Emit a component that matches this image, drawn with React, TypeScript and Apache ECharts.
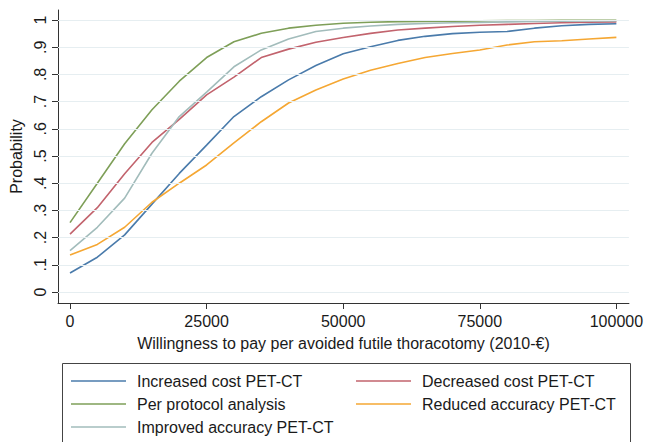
import React, { useEffect, useRef } from "react";
import * as echarts from "echarts";

const xValues = [0, 5000, 10000, 15000, 20000, 25000, 30000, 35000, 40000, 45000, 50000, 55000, 60000, 65000, 70000, 75000, 80000, 85000, 90000, 95000, 100000];
const increasedCost = [0.07, 0.128, 0.21, 0.323, 0.436, 0.54, 0.645, 0.718, 0.78, 0.833, 0.876, 0.902, 0.925, 0.94, 0.95, 0.955, 0.958, 0.97, 0.979, 0.984, 0.986];
const decreasedCost = [0.213, 0.31, 0.435, 0.55, 0.635, 0.725, 0.79, 0.862, 0.893, 0.918, 0.936, 0.951, 0.963, 0.97, 0.976, 0.981, 0.984, 0.987, 0.99, 0.992, 0.993];
const perProtocol = [0.255, 0.4, 0.545, 0.67, 0.775, 0.862, 0.92, 0.951, 0.97, 0.981, 0.988, 0.992, 0.994, 0.995, 0.996, 0.997, 0.998, 0.998, 0.999, 0.999, 0.999];
const reducedAccuracy = [0.136, 0.175, 0.238, 0.33, 0.4, 0.467, 0.548, 0.626, 0.695, 0.743, 0.783, 0.815, 0.84, 0.862, 0.877, 0.89, 0.908, 0.92, 0.924, 0.93, 0.936];
const improvedAccuracy = [0.152, 0.238, 0.345, 0.51, 0.645, 0.735, 0.828, 0.89, 0.93, 0.958, 0.97, 0.978, 0.984, 0.987, 0.99, 0.991, 0.993, 0.995, 0.996, 0.997, 0.997];

const xTicks = [0, 25000, 50000, 75000, 100000];
const yTicks = [0, 0.1, 0.2, 0.3, 0.4, 0.5, 0.6, 0.7, 0.8, 0.9, 1];

const seriesNames = [
  "Increased cost PET-CT",
  "Decreased cost PET-CT",
  "Per protocol analysis",
  "Reduced accuracy PET-CT",
  "Improved accuracy PET-CT",
];
const seriesData = [increasedCost, decreasedCost, perProtocol, reducedAccuracy, improvedAccuracy];
const seriesColors = ["#4a7bab", "#c2636d", "#7e9f58", "#f5a733", "#a2bcbb"];

const FONT = "'Liberation Sans', Arial, Helvetica, sans-serif";
const TEXT = "#1a1a1a";
const AXIS = "#333333";

function yLabel(v: number): string {
  if (Math.abs(v) < 1e-9) return "0";
  if (Math.abs(v - 1) < 1e-9) return "1";
  return "." + Math.round(v * 10);
}

// legend slots: [series index, left, top]
const legendSlots: [number, number, number][] = [
  [0, 71, 372],
  [1, 356, 372],
  [2, 71, 395],
  [3, 356, 395],
  [4, 71, 418],
];

export default function App() {
  const ref = useRef<HTMLDivElement>(null);
  useEffect(() => {
    if (!ref.current) return;
    const chart = echarts.init(ref.current, undefined, { renderer: "svg" });
    const series: any[] = seriesNames.map((name, i) => ({
      name,
      type: "line",
      symbol: "none",
      showSymbol: false,
      z: 3,
      data: xValues.map((x, j) => [x, seriesData[i][j]]),
      lineStyle: { color: seriesColors[i], width: 1.6 },
      itemStyle: { color: seriesColors[i] },
    }));
    series.push({
      name: "grid",
      type: "line",
      symbol: "none",
      z: 1,
      data: [],
      silent: true,
      markLine: {
        silent: true,
        symbol: "none",
        label: { show: false },
        lineStyle: { color: "#e6eef1", width: 1, type: "solid" },
        data: yTicks.map((v) => ({ yAxis: v })),
      },
    });
    chart.setOption({
      animation: false,
      backgroundColor: "#ffffff",
      textStyle: { fontFamily: FONT },
      grid: { left: 55, right: 14, top: 10, bottom: 139 },
      xAxis: {
        type: "value",
        min: -2200,
        max: 102300,
        name: "Willingness to pay per avoided futile thoracotomy (2010-€)",
        nameLocation: "middle",
        nameGap: 32,
        nameTextStyle: { fontSize: 16, color: TEXT, fontFamily: FONT },
        axisLine: { show: true, onZero: false, lineStyle: { color: AXIS, width: 1 } },
        axisTick: { show: true, length: 6, customValues: xTicks, lineStyle: { color: AXIS } },
        axisLabel: {
          customValues: xTicks,
          fontSize: 16,
          color: TEXT,
          margin: 10,
          fontFamily: FONT,
          formatter: (v: number) => String(v),
        },
        splitLine: { show: false },
      },
      yAxis: {
        type: "value",
        min: -0.0404,
        max: 1.0368,
        name: "Probability",
        nameLocation: "middle",
        nameRotate: 90,
        nameGap: 34,
        nameTextStyle: { fontSize: 16, color: TEXT, fontFamily: FONT },
        axisLine: { show: true, onZero: false, lineStyle: { color: AXIS, width: 1 } },
        axisTick: { show: true, length: 6, customValues: yTicks, lineStyle: { color: AXIS } },
        axisLabel: {
          customValues: yTicks,
          rotate: 90,
          fontSize: 16,
          color: TEXT,
          margin: 10,
          fontFamily: FONT,
          formatter: (v: number) => yLabel(v),
        },
        splitLine: { show: false },
      },
      legend: legendSlots.map(([idx, left, top]) => ({
        orient: "horizontal",
        left,
        top,
        padding: 0,
        icon: "rect",
        itemWidth: 55,
        itemHeight: 1.6,
        selectedMode: false,
        data: [seriesNames[idx]],
        textStyle: { fontSize: 16, lineHeight: 18, color: TEXT, fontFamily: FONT, padding: [0, 0, 0, 6] },
      })),
      graphic: [
        {
          type: "rect",
          shape: { x: 62.5, y: 363.5, width: 568, height: 100 },
          style: { fill: "none", stroke: "#444", lineWidth: 1 },
          silent: true,
        },
      ],
      series,
    });
    return () => chart.dispose();
  }, []);
  return (
    <div
      ref={ref}
      style={{ position: "absolute", left: 0, top: 0, width: 646, height: 442, background: "#fff" }}
    />
  );
}
